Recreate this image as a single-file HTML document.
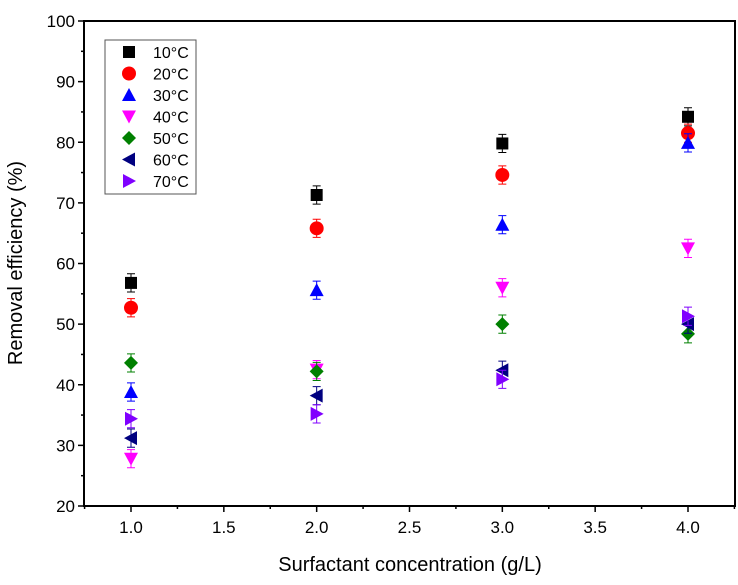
<!DOCTYPE html>
<html><head><meta charset="utf-8"><style>
html,body{margin:0;padding:0;background:#fff;}
svg{display:block;font-family:"Liberation Sans",Arial,sans-serif;}
</style></head><body>
<svg id="chart" width="738" height="585"></svg>
<script>
const xValues=[1,2,3,4];
const s10=[56.8,71.3,79.8,84.2];
const s20=[52.7,65.8,74.6,81.5];
const s30=[38.8,55.6,66.4,79.9];
const s40=[27.8,42.5,56.0,62.5];
const s50=[43.6,42.2,50.0,48.4];
const s60=[31.2,38.2,42.4,50.0];
const s70=[34.4,35.2,40.9,51.3];
const errs=[1.5,1.5,1.5,1.5];
const seriesNames=["10°C","20°C","30°C","40°C","50°C","60°C","70°C"];
const yTicks=[20,30,40,50,60,70,80,90,100];
const xTicks=[1.0,1.5,2.0,2.5,3.0,3.5,4.0];

const NS="http://www.w3.org/2000/svg";
const svg=document.getElementById('chart');
const L=84,R=735,T=21,B=506;
const X=v=>131+(v-1)*(688-131)/3;
const Y=v=>B-(v-20)*(B-T)/80;
function mk(tag,attrs,parent){const e=document.createElementNS(NS,tag);for(const k in attrs)e.setAttribute(k,attrs[k]);(parent||svg).appendChild(e);return e;}

const frame=mk('rect',{x:L,y:T,width:R-L,height:B-T,fill:'none',stroke:'#000','stroke-width':2});



yTicks.forEach((t,i)=>{
  const y=Y(t);
  const tk=mk('line',{x1:L-6,x2:L,y1:y,y2:y,stroke:'#000','stroke-width':1.5});
  
  
  if(i<yTicks.length-1){const ym=Y(t+5);const m=mk('line',{x1:L-3,x2:L,y1:ym,y2:ym,stroke:'#000','stroke-width':1.5});
  
  }
  const lb=mk('text',{x:L-9,y:y+6,'text-anchor':'end','font-size':17,fill:'#000'});lb.textContent=t;
  
  
});
xTicks.forEach(t=>{
  const x=X(t);
  const tk=mk('line',{x1:x,x2:x,y1:B,y2:B+6,stroke:'#000','stroke-width':1.5});
  
  
  const m=mk('line',{x1:X(t+0.25),x2:X(t+0.25),y1:B,y2:B+3,stroke:'#000','stroke-width':1.5});
  
  
  const lb=mk('text',{x:x,y:B+27,'text-anchor':'middle','font-size':17,fill:'#000'});lb.textContent=t.toFixed(1);
  
  
});
const m0=mk('line',{x1:X(0.75),x2:X(0.75),y1:B,y2:B+3,stroke:'#000','stroke-width':1.5});



const xt=mk('text',{x:410,y:571,'text-anchor':'middle','font-size':20,fill:'#000'});xt.textContent='Surfactant concentration (g/L)';


const yt=mk('text',{x:0,y:0,transform:'translate(22,263) rotate(-90)','text-anchor':'middle','font-size':20,fill:'#000'});yt.textContent='Removal efficiency (%)';



const colors=['#000000','#ff0000','#0000ff','#ff00ff','#008000','#000080','#8000ff'];
const shapes=['sq','ci','up','dn','di','lt','rt'];
function marker(shape,cx,cy,c,parent){
  const s=7;
  if(shape==='sq')return mk('rect',{x:cx-s+1,y:cy-s+1,width:2*s-2,height:2*s-2,fill:c},parent);
  if(shape==='ci')return mk('circle',{cx:cx,cy:cy,r:s,fill:c},parent);
  let p;
  if(shape==='up')p=[[cx,cy-s],[cx+s,cy+s-1],[cx-s,cy+s-1]];
  if(shape==='dn')p=[[cx,cy+s],[cx+s,cy-s+1],[cx-s,cy-s+1]];
  if(shape==='di')p=[[cx,cy-s],[cx+s,cy],[cx,cy+s],[cx-s,cy]];
  if(shape==='lt')p=[[cx-s,cy],[cx+s-1,cy-s],[cx+s-1,cy+s]];
  if(shape==='rt')p=[[cx+s,cy],[cx-s+1,cy-s],[cx-s+1,cy+s]];
  return mk('polygon',{points:p.map(a=>a.join(',')).join(' '),fill:c},parent);
}
const allSeries=[s10,s20,s30,s40,s50,s60,s70];
allSeries.forEach((vals,si)=>{
  const g=mk('g',{});
  
  
  vals.forEach((v,i)=>{
    const x=X(xValues[i]),y=Y(v),e=errs[i];
    const eb=mk('path',{d:`M${x},${Y(v+e)}V${Y(v-e)}M${x-4},${Y(v+e)}H${x+4}M${x-4},${Y(v-e)}H${x+4}`,stroke:colors[si],'stroke-width':1,fill:'none'},g);
    
    
    const m=marker(shapes[si],x,y,colors[si],g);
    
    
  });
});

const lg=mk('g',{});


mk('rect',{x:105,y:40,width:91,height:154,fill:'#fff',stroke:'#555','stroke-width':1},lg);
seriesNames.forEach((n,i)=>{
  const y=52+i*21.5;
  const m=marker(shapes[i],129,y,colors[i],lg);
  
  
  const t=mk('text',{x:153,y:y+6,'font-size':16,fill:'#000'},lg);t.textContent=n;
  
  
});
</script>
</body></html>
